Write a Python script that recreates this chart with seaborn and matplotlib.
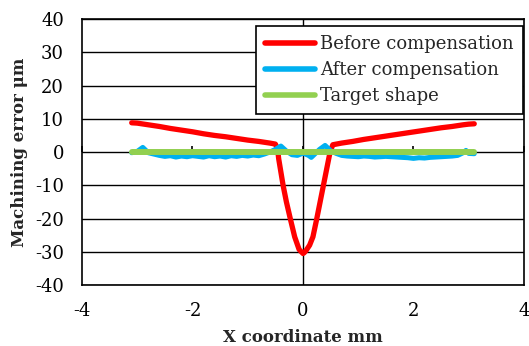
import matplotlib
matplotlib.use("Agg")
import matplotlib.pyplot as plt
import numpy as np
import pandas as pd
import seaborn as sns

# --- data ---
before_x = [-3.1, -3.0, -2.8, -2.6, -2.4, -2.2, -2.0, -1.8, -1.6, -1.4, -1.2,
            -1.0, -0.8, -0.6, -0.5, -0.46, -0.44, -0.40, -0.36, -0.30, -0.23,
            -0.15, -0.07, 0.0, 0.02, 0.06, 0.12, 0.18, 0.25, 0.31, 0.37, 0.43,
            0.49, 0.54, 0.7, 0.9, 1.1, 1.3, 1.5, 1.7, 1.9, 2.1, 2.3, 2.5, 2.7,
            2.9, 3.0, 3.1]
before_y = [8.8, 8.7, 8.2, 7.7, 7.1, 6.6, 6.1, 5.5, 5.0, 4.6, 4.1,
            3.6, 3.2, 2.7, 2.4, 1.0, -2.0, -6.0, -10.0, -15.0, -20.0,
            -25.5, -29.3, -30.5, -30.3, -29.5, -28.0, -25.5, -20.0, -15.0, -10.0, -5.0,
            0.0, 2.2, 2.7, 3.2, 3.8, 4.3, 4.8, 5.3, 5.8, 6.3, 6.8, 7.3, 7.7,
            8.2, 8.4, 8.5]

after_x = [-3.1, -3.0, -2.9, -2.8, -2.7, -2.6, -2.5, -2.4, -2.3, -2.2, -2.1,
           -2.0, -1.9, -1.8, -1.7, -1.6, -1.5, -1.4, -1.3, -1.2, -1.1, -1.0,
           -0.9, -0.8, -0.7, -0.6, -0.5, -0.4, -0.3, -0.2, -0.1, 0.0, 0.1,
           0.15, 0.2, 0.3, 0.4, 0.5, 0.6, 0.7, 0.8, 0.9, 1.0, 1.1, 1.2, 1.3,
           1.4, 1.5, 1.6, 1.7, 1.8, 1.9, 2.0, 2.1, 2.2, 2.3, 2.4, 2.5, 2.6,
           2.7, 2.8, 2.9, 2.95, 3.0, 3.1]
after_y = [-0.2, 0.2, 1.4, -0.2, -0.6, -1.0, -1.3, -1.1, -1.5, -1.2, -1.4,
           -1.1, -1.3, -1.5, -1.1, -1.4, -1.2, -1.5, -1.1, -1.3, -1.0, -1.2,
           -0.9, -1.1, -0.6, 0.0, 0.8, 1.8, 0.3, -0.8, -1.0, -0.3, -1.0,
           -1.6, -0.8, 0.8, 2.0, 0.4, -0.4, -1.0, -1.2, -1.3, -1.4, -1.2, -1.3, -1.5,
           -1.4, -1.3, -1.4, -1.5, -1.6, -1.7, -1.9, -1.7, -1.8, -1.6, -1.5, -1.4, -1.3,
           -1.2, -1.0, -0.2, 0.5, -0.4, -0.5]

target_x = [-3.1, 3.1]
target_y = [0.0, 0.0]

series_names = ["Before compensation", "After compensation", "Target shape"]
series_colors = ["#ff0000", "#00b0f0", "#92d050"]
series_widths = [3.8, 3.6, 4.3]

df = pd.concat([
    pd.DataFrame({"x": before_x, "y": before_y, "series": series_names[0]}),
    pd.DataFrame({"x": after_x, "y": after_y, "series": series_names[1]}),
    pd.DataFrame({"x": target_x, "y": target_y, "series": series_names[2]}),
], ignore_index=True)

sns.set_style("white")
plt.rcParams["font.family"] = ["DejaVu Serif"]
plt.rcParams["axes.unicode_minus"] = False

fig = plt.figure(figsize=(5.29, 3.46), dpi=100)
ax = fig.add_axes([0.155, 0.176, 0.8355, 0.769])

sns.lineplot(data=df, x="x", y="y", hue="series", hue_order=series_names,
             palette=dict(zip(series_names, series_colors)), estimator=None,
             linewidth=3.6, ax=ax, legend=True, zorder=3)
for line, lw in zip(ax.get_lines(), series_widths):
    line.set_linewidth(lw)

ax.set_xlim(-4, 4)
ax.set_ylim(-40, 40)
ax.set_xticks(np.arange(-4, 5, 2))
ax.set_yticks(np.arange(-40, 41, 10))
ax.yaxis.grid(True, color="black", linewidth=1.0)
ax.axvline(0, color="black", linewidth=1.0, zorder=1)
ax.tick_params(axis="both", length=0, labelsize=13, colors="black")
ax.tick_params(axis="x", pad=12)
ax.tick_params(axis="y", pad=13)
for s in ax.spines.values():
    s.set_color("black")
    s.set_linewidth(1.2)

# x-axis crossing at y = 0 with upward tick marks
sec = ax.secondary_xaxis(0.5)
sec.set_xticks(np.arange(-4, 5, 2))
sec.tick_params(length=4.5, width=1.2, labeltop=False, labelbottom=False, color="black")
sec.spines["top"].set_visible(False)
sec.spines["bottom"].set_visible(False)

ax.set_xlabel("X coordinate mm", fontsize=12, fontweight="bold", labelpad=7)
ax.set_ylabel("Machining error μm", fontsize=12, fontweight="bold", labelpad=5)

handles, labels = ax.get_legend_handles_labels()
leg = ax.legend(handles, labels, loc="upper right", bbox_to_anchor=(0.998, 0.974),
                fontsize=13, frameon=True, fancybox=False, framealpha=1,
                edgecolor="black", handlelength=2.75, handletextpad=0.3,
                labelspacing=0.45, borderpad=0.5, borderaxespad=0)
leg.get_frame().set_linewidth(1.2)
for line in leg.get_lines():
    line.set_linewidth(4)

fig.savefig("out.png", dpi=100)
